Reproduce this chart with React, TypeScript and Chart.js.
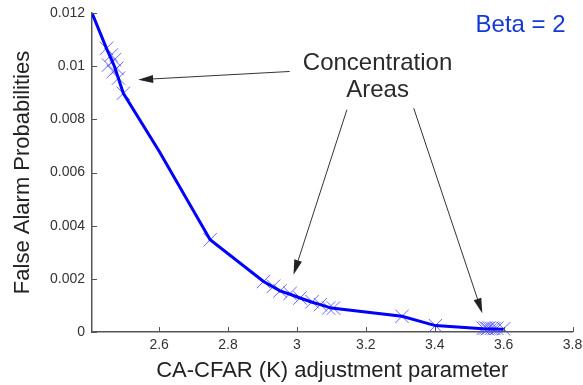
import React, { useEffect, useRef } from "react";
import { Chart, registerables } from "chart.js";

Chart.register(...registerables);

// ---- data ----
const curveX = [2.405, 2.447, 2.47, 2.496, 2.6, 2.748, 2.903, 2.951, 2.98, 3.009, 3.044, 3.068, 3.1, 3.305, 3.402, 3.54, 3.6];
const curveY = [0.012, 0.01067, 0.0100, 0.00898, 0.0068, 0.00347, 0.0019, 0.00155, 0.00142, 0.00128, 0.00112, 0.00103, 0.0009, 0.00059, 0.00024, 0.00012, 0.0001];

const markerX = [2.447, 2.461, 2.47, 2.453, 2.477, 2.467, 2.482, 2.496,
  2.748, 2.903, 2.932, 2.951, 2.98, 3.009, 3.044, 3.068, 3.092, 3.106, 3.305, 3.402,
  3.541, 3.548, 3.553, 3.558, 3.565, 3.572, 3.58, 3.6];
const markerY = [0.01067, 0.01042, 0.01024, 0.01004, 0.00992, 0.0098, 0.00955, 0.00898,
  0.00347, 0.0019, 0.00172, 0.00155, 0.00145, 0.00128, 0.00114, 0.00103, 0.0009, 0.0009, 0.00059, 0.00024,
  0.00014, 0.00015, 0.00013, 0.00015, 0.00014, 0.00013, 0.00014, 0.00012];

const xTicks = [2.6, 2.8, 3.0, 3.2, 3.4, 3.6, 3.8];
const yTicks = [0, 0.002, 0.004, 0.006, 0.008, 0.01, 0.012];
const xRange = [2.405, 3.8];
const yRange = [0, 0.012];

const xTitle = "CA-CFAR (K) adjustment parameter";
const yTitle = "False Alarm Probabilities";
const noteLines = ["Concentration", "Areas"];
const noteAnchor = [3.234, 0.00986];
const betaText = "Beta = 2";
const betaAnchor = [3.78, 0.01129];
const arrowsFrom = [[2.979, 0.0098], [3.145, 0.00836], [3.339, 0.00842]];
const arrowsTo = [[2.539, 0.00949], [2.99, 0.00215], [3.538, 0.00071]];

const FONT = "'Liberation Sans', Arial, sans-serif";

const fmt = (v: number) => String(Number(v.toFixed(4)));

const overlay = {
  id: "overlay",
  afterDraw(chart: any) {
    const { ctx, chartArea, scales } = chart;
    const x = scales.x;
    const y = scales.y;
    ctx.save();
    // inward ticks
    ctx.strokeStyle = "#555";
    ctx.lineWidth = 1;
    ctx.beginPath();
    xTicks.forEach((v) => {
      const px = Math.round(x.getPixelForValue(v)) + 0.5;
      ctx.moveTo(px, chartArea.bottom);
      ctx.lineTo(px, chartArea.bottom - 5);
    });
    yTicks.forEach((v) => {
      const py = Math.round(y.getPixelForValue(v)) + 0.5;
      ctx.moveTo(chartArea.left, py);
      ctx.lineTo(chartArea.left + 5, py);
    });
    ctx.stroke();

    // arrows
    ctx.strokeStyle = "#333";
    ctx.fillStyle = "#222";
    ctx.lineWidth = 1;
    arrowsFrom.forEach((f, i) => {
      const t = arrowsTo[i];
      const x1 = x.getPixelForValue(f[0]);
      const y1 = y.getPixelForValue(f[1]);
      const x2 = x.getPixelForValue(t[0]);
      const y2 = y.getPixelForValue(t[1]);
      const ang = Math.atan2(y2 - y1, x2 - x1);
      const hl = 15, hw = 4;
      const bx = x2 - hl * Math.cos(ang);
      const by = y2 - hl * Math.sin(ang);
      ctx.beginPath();
      ctx.moveTo(x1, y1);
      ctx.lineTo(bx, by);
      ctx.stroke();
      ctx.beginPath();
      ctx.moveTo(x2, y2);
      ctx.lineTo(bx + hw * Math.sin(ang), by - hw * Math.cos(ang));
      ctx.lineTo(bx - hw * Math.sin(ang), by + hw * Math.cos(ang));
      ctx.closePath();
      ctx.fill();
    });

    // text annotations
    ctx.font = `24px ${FONT}`;
    ctx.fillStyle = "#2a2a2a";
    ctx.textAlign = "center";
    ctx.textBaseline = "alphabetic";
    const nx = x.getPixelForValue(noteAnchor[0]);
    const ny = y.getPixelForValue(noteAnchor[1]);
    noteLines.forEach((s, i) => ctx.fillText(s, nx, ny + i * 26.7));

    ctx.fillStyle = "#1438d8";
    ctx.textAlign = "right";
    ctx.fillText(betaText, x.getPixelForValue(betaAnchor[0]), y.getPixelForValue(betaAnchor[1]));
    ctx.restore();
  },
};

export default function App() {
  const ref = useRef<HTMLCanvasElement>(null);
  useEffect(() => {
    document.body.style.margin = "0";
    const chart = new Chart(ref.current!, {
      type: "scatter",
      data: {
        datasets: [
          {
            type: "line",
            label: "curve",
            data: curveX.map((v, i) => ({ x: v, y: curveY[i] })),
            borderColor: "#0000ff",
            borderWidth: 3,
            pointRadius: 0,
            fill: false,
            tension: 0,
            order: 0,
          },
          {
            type: "scatter",
            label: "points",
            data: markerX.map((v, i) => ({ x: v, y: markerY[i] })),
            pointStyle: "crossRot",
            pointRadius: 9.5,
            borderColor: "rgba(80,80,255,0.85)",
            borderWidth: 1,
            clip: false,
            order: 1,
          } as any,
        ],
      },
      options: {
        animation: false,
        responsive: false,
        maintainAspectRatio: false,
        layout: { padding: { top: 13, right: 0, bottom: 0, left: 0 } },
        plugins: { legend: { display: false }, tooltip: { enabled: false } },
        scales: {
          x: {
            type: "linear",
            min: xRange[0],
            max: xRange[1],
            afterBuildTicks: (s: any) => { s.ticks = xTicks.map((v) => ({ value: v })); },
            afterFit: (s: any) => { s.height = 53; s.paddingRight = 10; s.paddingLeft = 0; },
            grid: { display: false, drawTicks: false },
            border: { display: true, color: "#555", width: 1.5 },
            ticks: { callback: (v: any) => fmt(Number(v)), color: "#333", font: { size: 14, family: FONT }, padding: 5, maxRotation: 0, autoSkip: false },
            title: { display: true, text: xTitle, color: "#222", font: { size: 22, family: FONT }, padding: { top: 2, bottom: 1 } },
          },
          y: {
            type: "linear",
            min: yRange[0],
            max: yRange[1],
            afterBuildTicks: (s: any) => { s.ticks = yTicks.map((v) => ({ value: v })); },
            afterFit: (s: any) => { s.width = 92; s.paddingTop = 0; s.paddingBottom = 0; },
            grid: { display: false, drawTicks: false },
            border: { display: true, color: "#555", width: 1.5 },
            ticks: { callback: (v: any) => fmt(Number(v)), color: "#333", font: { size: 14, family: FONT }, padding: 7, autoSkip: false },
            title: { display: true, text: yTitle, color: "#222", font: { size: 22, family: FONT }, padding: { top: 10, bottom: 2 } },
          },
        },
      },
      plugins: [overlay],
    });
    return () => chart.destroy();
  }, []);
  return (
    <div style={{ width: 583, height: 385 }}>
      <canvas ref={ref} width={583} height={385} />
    </div>
  );
}
